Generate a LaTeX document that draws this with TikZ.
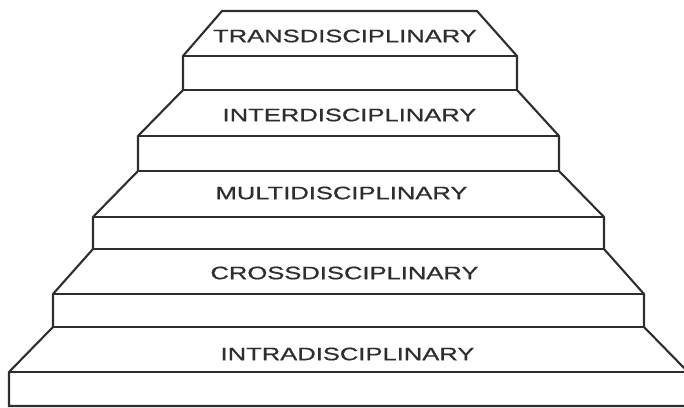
\documentclass[tikz,border=0pt]{standalone}
\usepackage{fontspec}
\setmainfont{Liberation Sans}
\newfontfamily\labelfont[FakeBold=0.6]{Liberation Sans}
\definecolor{ink}{HTML}{2E2E2E}
\tikzset{
  stepline/.style={draw=ink, line width=2.1pt, line join=miter},
  label/.style={text=ink, inner sep=0pt, font=\labelfont\fontsize{18}{20}\selectfont}
}
\newcommand{\wide}[1]{\scalebox{1.42}[1]{#1}}
\begin{document}
\begin{tikzpicture}[x=1pt,y=-1pt]
\useasboundingbox (0,0) rectangle (684,407);
\clip (0,0) rectangle (684,407);
% outline
\path[stepline] (222,11) -- (477,11) -- (517,56) -- (517,90) -- (559,136) -- (559,171)
  -- (604,217) -- (604,249) -- (644,294) -- (644,327) -- (688,372) -- (688,406)
  -- (9,406) -- (9,372) -- (53,327) -- (53,294) -- (93,249) -- (93,217)
  -- (138,171) -- (138,136) -- (183,90) -- (183,56) -- cycle;
% horizontal step lines
\path[stepline] (183,56) -- (517,56);
\path[stepline] (183,90) -- (517,90);
\path[stepline] (138,136) -- (559,136);
\path[stepline] (138,171) -- (559,171);
\path[stepline] (93,217) -- (604,217);
\path[stepline] (93,249) -- (604,249);
\path[stepline] (53,294) -- (644,294);
\path[stepline] (53,327) -- (644,327);
\path[stepline] (9,372) -- (688,372);
% labels
\node[label] (trans) at (345,36) {\wide{TRANSDISCIPLINARY}};
\node[label] (inter) at (349.5,115) {\wide{INTERDISCIPLINARY}};
\node[label] (multi) at (341.5,193) {\wide{MULTIDISCIPLINARY}};
\node[label] (cross) at (344.5,273) {\wide{CROSSDISCIPLINARY}};
\node[label] (intra) at (347.5,354) {\wide{INTRADISCIPLINARY}};
\end{tikzpicture}
\end{document}
